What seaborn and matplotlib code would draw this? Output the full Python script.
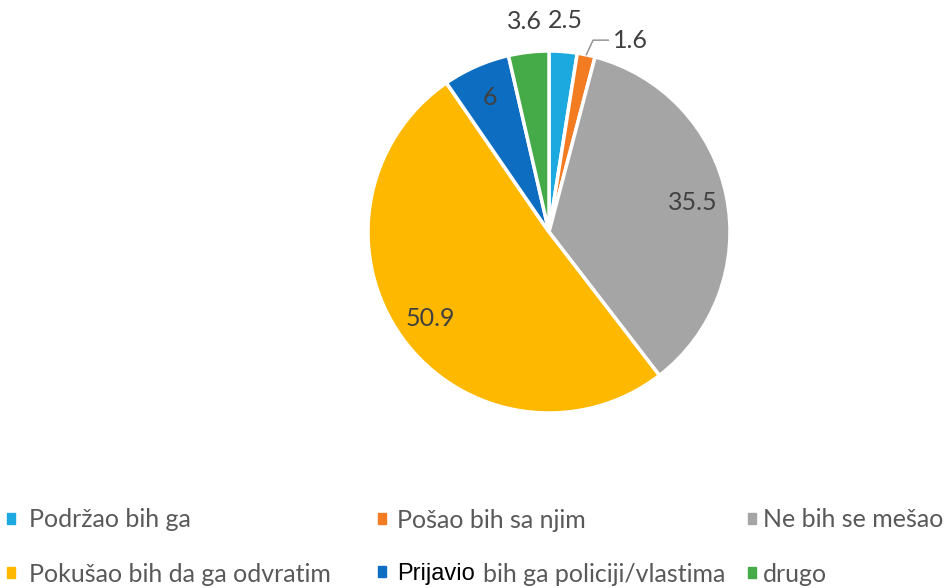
import numpy as np
import matplotlib
matplotlib.use("Agg")
import matplotlib.pyplot as plt
import matplotlib.patches as mpatches
import seaborn as sns

# podaci (u procentima)
kategorije = ["Podržao bih ga", "Pošao bih sa njim", "Ne bih se mešao",
              "Pokušao bih da ga odvratim", "Prijavio bih ga policiji/vlastima", "drugo"]
vrednosti = [2.5, 1.6, 35.5, 50.9, 6, 3.6]
oznake = ["2.5", "1.6", "35.5", "50.9", "6", "3.6"]
boje = ["#1BA9DF", "#F37B22", "#A5A5A5", "#FFB800", "#0D6EC1", "#45AA48"]

sns.set_theme(style="white")
plt.rcParams['font.family'] = ['Lato', 'DejaVu Sans']

fig = plt.figure(figsize=(9.47, 5.88), dpi=100)
W, H = 947, 588
cx, cy, r = 549, 232, 181
ax = fig.add_axes([(cx - r) / W, (H - cy - r) / H, 2 * r / W, 2 * r / H])

wedges, _ = ax.pie(vrednosti, colors=boje, startangle=90, counterclock=False,
                   wedgeprops=dict(edgecolor="white", linewidth=2.5))
ax.set_xlim(-1, 1)
ax.set_ylim(-1, 1)
ax.set_aspect("equal")
ax.axis("off")

# oznake vrednosti
for w, lab, v in zip(wedges, oznake, vrednosti):
    ang = np.deg2rad((w.theta1 + w.theta2) / 2)
    x, y = np.cos(ang), np.sin(ang)
    if v >= 5:
        ax.text(0.81 * x, 0.81 * y, lab, ha="center", va="center",
                fontsize=18, color="#404040")
    elif lab == "1.6":
        ax.annotate(lab, xy=(1.0 * x, 1.0 * y), xytext=(0.355, 1.06),
                    ha="left", va="center", fontsize=18, color="#404040",
                    arrowprops=dict(arrowstyle="-", color="#8C8C8C", lw=1,
                                    connectionstyle="angle,angleA=0,angleB=65,rad=0",
                                    shrinkA=1, shrinkB=0))
    else:
        ax.text(1.18 * x, 1.17 * y, lab, ha="center", va="center",
                fontsize=18, color="#404040")

# legenda: tri kolone, po dva reda
kolone = [[0, 3], [1, 4], [2, 5]]
kol_x = [7, 378, 748]
razmak = [0.6, 0.45, 0.3]
for idx, x0, pad in zip(kolone, kol_x, razmak):
    ruke = [mpatches.Patch(color=boje[i]) for i in idx]
    imena = [kategorije[i] for i in idx]
    if 4 in idx:
        imena[1] = "Prijavio"
    leg = fig.legend(ruke, imena, loc="center left",
                     bbox_to_anchor=(x0 / W, 1 - 547 / H),
                     frameon=False, fontsize=18, handlelength=0.3, handleheight=0.3,
                     handletextpad=pad, labelspacing=1.25, borderpad=0,
                     borderaxespad=0, labelcolor="#595959")
    if 4 in idx:
        t = leg.get_texts()[1]
        t.set_color("black")
        t.set_fontfamily(["Liberation Sans", "DejaVu Sans"])
        t.set_fontsize(17)
        fig.text(483 / W, 1 - 575 / H, "bih ga policiji/vlastima", ha="left", va="center",
                 fontsize=18, color="#595959")

fig.savefig("out.png", dpi=100)
